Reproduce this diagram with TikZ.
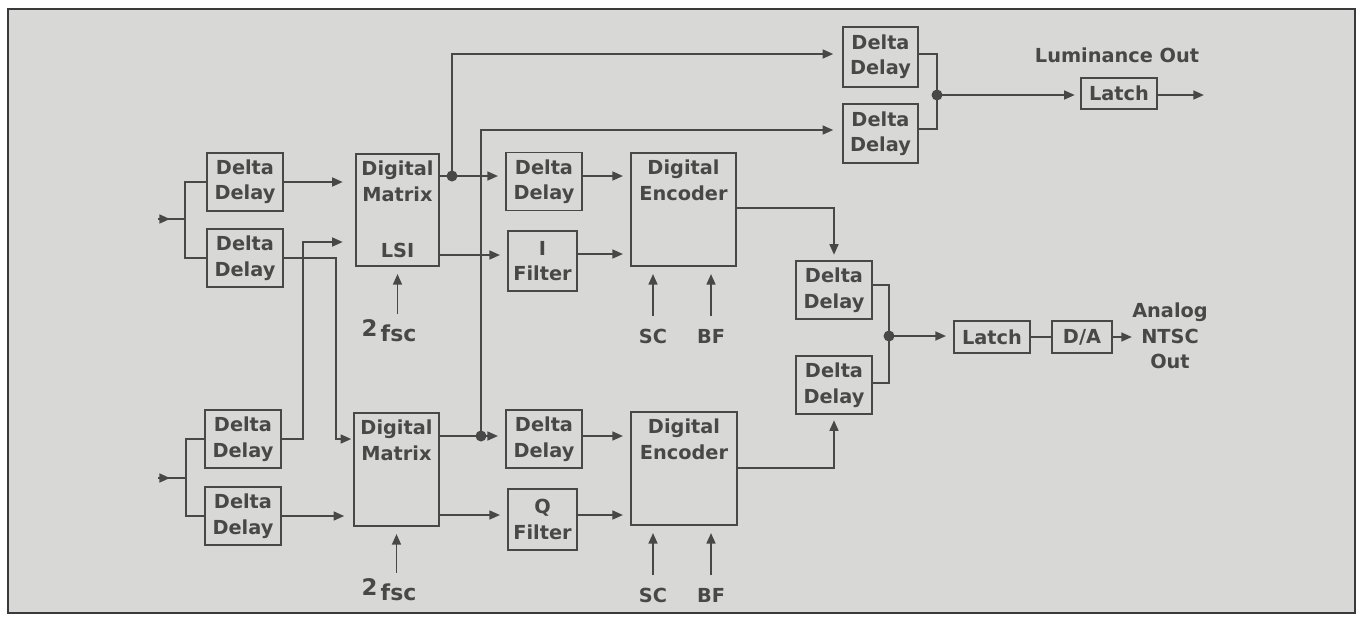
\documentclass[tikz,border=0pt]{standalone}
\usepackage{fontspec}
\setmainfont{DejaVu Sans}
\usetikzlibrary{arrows.meta}
\definecolor{ink}{RGB}{72,72,72}
\definecolor{paper}{RGB}{216,216,214}
\begin{document}
\begin{tikzpicture}[x=0.02cm, y=-0.02cm,
  txt/.style={text=ink, inner sep=0pt, align=center, font=\bfseries\fontsize{11}{14.5}\selectfont},
  blk/.style={txt, draw=ink, line width=1.1pt},
  dd/.style={blk, minimum width=1.52cm, minimum height=1.16cm},
  wire/.style={draw=ink, line width=1.1pt},
  arr/.style={wire, -{Triangle[length=6pt,width=5pt]}, shorten >=4pt},
  dot/.style={circle, fill=ink, inner sep=0pt, minimum size=0.22cm}]
  \fill[white] (0,0) rectangle (1365,616);
  \draw[line width=1.6pt, draw=ink!80!black, fill=paper] (8,9) rectangle (1355,613);
  \useasboundingbox (0,0) rectangle (1365,616);

  % input delays
  \coordinate (inA) at (158,219);
  \coordinate (brA) at (185,219);
  \coordinate (inB) at (158,478);
  \coordinate (brB) at (186,478);
  \node[dd] (ddA1) at (245,182) {Delta\\Delay};
  \node[dd] (ddA2) at (245,258) {Delta\\Delay};
  \node[dd] (ddA3) at (243,439) {Delta\\Delay};
  \node[dd] (ddA4) at (243,516) {Delta\\Delay};

  % matrices
  \node[blk, minimum width=1.66cm, minimum height=2.24cm] (mxA) at (397.5,210) {};
  \node[txt, below=4.5pt] (mxAt) at (mxA.north) {Digital\\Matrix};
  \node[txt, above=5pt] (mxAl) at (mxA.south) {LSI};
  \node[blk, minimum width=1.7cm, minimum height=2.26cm] (mxB) at (396.5,469.5) {};
  \node[txt, below=4.5pt] (mxBt) at (mxB.north) {Digital\\Matrix};
  \node[txt] (fsA) at (389,331) {{\fontsize{13}{13}\selectfont 2}\,\raisebox{-3pt}{\fontsize{12.5}{13}\selectfont fsc}};
  \node[txt] (fsB) at (389,590) {{\fontsize{13}{13}\selectfont 2}\,\raisebox{-3pt}{\fontsize{12.5}{13}\selectfont fsc}};

  % second column
  \node[dd] (ddB1) at (544,181.5) {Delta\\Delay};
  \node[blk, minimum width=1.38cm, minimum height=1.2cm] (fiI) at (542.5,261) {I\\Filter};
  \node[dd] (ddB2) at (544,439) {Delta\\Delay};
  \node[blk, minimum width=1.38cm, minimum height=1.22cm] (fiQ) at (542.5,519.5) {Q\\Filter};

  % encoders
  \node[blk, minimum width=2.1cm, minimum height=2.26cm] (encA) at (683.5,209.5) {};
  \node[txt, below=4.5pt] (encAt) at (encA.north) {Digital\\Encoder};
  \node[blk, minimum width=2.12cm, minimum height=2.26cm] (encB) at (684,468.5) {};
  \node[txt, below=4.5pt] (encBt) at (encB.north) {Digital\\Encoder};
  \node[txt] (scA) at (653,336) {SC};
  \node[txt] (bfA) at (711,336) {BF};
  \node[txt] (scB) at (653,595) {SC};
  \node[txt] (bfB) at (711,595) {BF};

  % output side
  \node[dd] (ddC1) at (834,290) {Delta\\Delay};
  \node[dd] (ddC2) at (834,385) {Delta\\Delay};
  \node[dd, minimum width=1.5cm, minimum height=1.2cm] (ddD1) at (880.5,57) {Delta\\Delay};
  \node[dd, minimum width=1.5cm, minimum height=1.18cm] (ddD2) at (880.5,133.5) {Delta\\Delay};
  \node[blk, minimum width=1.52cm, minimum height=0.62cm] (latY) at (1119,93.5) {Latch};
  \node[blk, minimum width=1.52cm, minimum height=0.64cm] (latC) at (992,337) {Latch};
  \node[blk, minimum width=1.2cm, minimum height=0.64cm] (dac) at (1082,337) {D/A};
  \node[txt] (lumOut) at (1117,55) {Luminance Out};
  \node[txt] (ntscOut) at (1170,336) {Analog\\NTSC\\Out};

  % inputs
  \draw[arr, shorten >=0pt] (inA) -- ++(12,0);
  \draw[wire] (inA) -- (brA);
  \draw[wire] (ddA1.west) -| (brA) |- (ddA2.west);
  \draw[arr, shorten >=0pt] (inB) -- ++(12,0);
  \draw[wire] (inB) -- (brB);
  \draw[wire] (ddA3.west) -| (brB) |- (ddA4.west);

  % into the matrices
  \draw[arr, shorten >=7pt] (ddA1.east) -- (mxA.west |- ddA1.east);
  \draw[arr, shorten >=1pt] (ddA2.east) -- ++(52,0) |- (mxB.west |- ddA3.east);
  \draw[arr, shorten >=7pt] (ddA3.east) -- ++(21,0) |- (mxA.west |- 0,242);
  \draw[arr, shorten >=5pt] (ddA4.east) -- (mxB.west |- ddA4.east);
  \draw[arr, shorten <=3pt] (mxA.south |- fsA.north) -- (mxA.south);
  \draw[arr, shorten <=3pt] (mxB.south |- fsB.north) -- (mxB.south);

  % matrix outputs
  \coordinate (jA) at (452,176);
  \coordinate (jB) at (481,436);
  \draw[wire] (mxA.east |- jA) -- (jA);
  \draw[arr] (jA) -- (ddB1.west |- jA);
  \draw[arr, shorten >=5pt] (jA) |- (ddD1.west |- 0,54);
  \draw[wire] (mxB.east |- jB) -- (jB);
  \draw[arr] (jB) -- (ddB2.west |- jB);
  \draw[arr, shorten >=5pt] (jB) |- (ddD2.west |- 0,130);
  \node[dot] (dA) at (jA) {};
  \node[dot] (dB) at (jB) {};
  \draw[arr] (mxA.east |- 0,255) -- (fiI.west |- 0,255);
  \draw[arr] (mxB.east |- 0,515) -- (fiQ.west |- 0,515);

  % into the encoders
  \draw[arr] (ddB1.east |- jA) -- (encA.west |- jA);
  \draw[arr] (fiI.east |- 0,254) -- (encA.west |- 0,254);
  \draw[arr] (ddB2.east |- jB) -- (encB.west |- jB);
  \draw[arr] (fiQ.east |- 0,515) -- (encB.west |- 0,515);
  \draw[arr, shorten <=7pt] (scA.north) -- (scA.north |- encA.south);
  \draw[arr, shorten <=7pt] (bfA.north) -- (bfA.north |- encA.south);
  \draw[arr, shorten <=7pt] (scB.north) -- (scB.north |- encB.south);
  \draw[arr, shorten <=7pt] (bfB.north) -- (bfB.north |- encB.south);

  % chroma out
  \draw[arr, shorten >=3pt] (encA.east |- 0,208) -| (ddC1.north);
  \draw[arr, shorten >=3pt] (encB.east |- 0,468) -| (ddC2.south);
  \coordinate (mC) at (889,336);
  \draw[wire] (ddC1.east |- 0,285) -| (mC) |- (ddC2.east |- 0,383);
  \node[dot] (dC) at (mC) {};
  \draw[arr] (mC) -- (latC.west |- mC);
  \draw[wire] (latC.east) -- (dac.west);
  \draw[arr, shorten >=0pt] (dac.east) -- (ntscOut.west |- dac.east);

  % luminance out
  \coordinate (mD) at (937,95);
  \draw[wire] (ddD1.east |- 0,54) -| (mD) |- (ddD2.east |- 0,129);
  \node[dot] (dD) at (mD) {};
  \draw[arr, shorten >=3pt] (mD) -- (latY.west |- mD);
  \draw[arr, shorten >=0pt] (latY.east |- mD) -- ++(46,0);
\end{tikzpicture}
\end{document}
